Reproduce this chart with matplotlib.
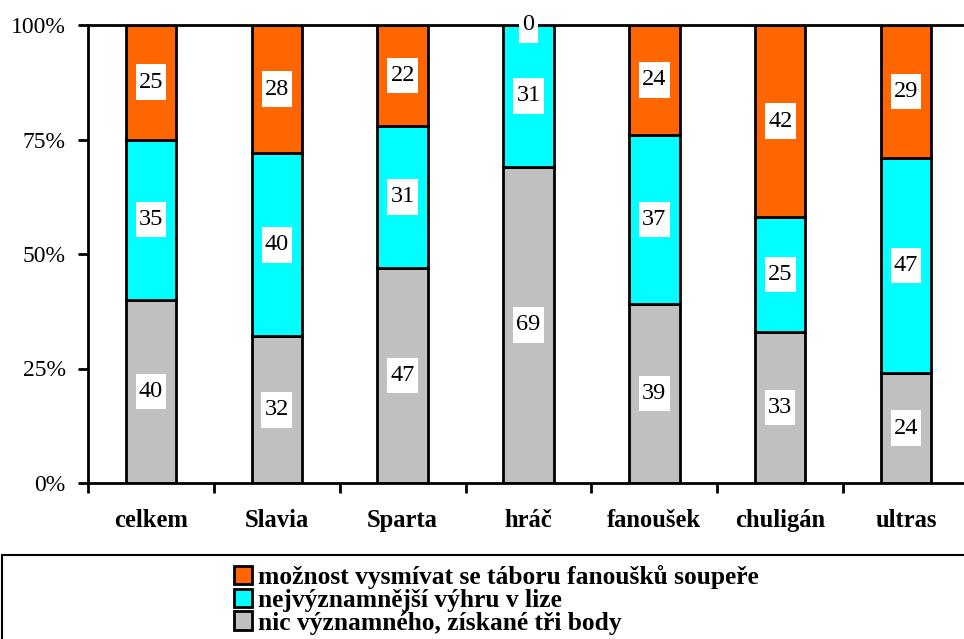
import matplotlib
matplotlib.use("Agg")
import matplotlib.pyplot as plt
from matplotlib.patches import Rectangle, Patch
from matplotlib.path import Path
from matplotlib.ticker import FixedLocator, NullFormatter

categories = ["celkem", "Slavia", "Sparta", "hráč", "fanoušek", "chuligán", "ultras"]
nic_vyznamneho = [40, 32, 47, 69, 39, 33, 24]
nejvyznamnejsi = [35, 40, 31, 31, 37, 25, 47]
vysmivat = [25, 28, 22, 0, 24, 42, 29]

series_labels = [
    "nic významného, získané tři body",
    "nejvýznamnější výhru v lize",
    "možnost vysmívat se táboru fanoušků soupeře",
]
series_colors = ["#C0C0C0", "#00FFFF", "#FF6600"]
y_ticks = [0, 25, 50, 75, 100]

plt.rcParams["font.family"] = ["Liberation Serif", "DejaVu Serif"]

fig = plt.figure(figsize=(9.64, 6.39), dpi=100)
ax = fig.add_axes([88 / 964, 1 - 483 / 639, (969 - 88) / 964, (483 - 25) / 639])


def label_box(x0, y0, width, height, mutation_size):
    # white box around value labels: narrow sides, tall top/bottom
    px = 0.13 * mutation_size
    py = 0.30 * mutation_size
    x0, x1 = x0 - px, x0 + width + px
    y0, y1 = y0 - py, y0 + height + py
    return Path([(x0, y0), (x1, y0), (x1, y1), (x0, y1), (x0, y0)], closed=True)


x = list(range(len(categories)))
bottom = [0] * len(categories)
handles = []
for vals, color, lab in zip([nic_vyznamneho, nejvyznamnejsi, vysmivat], series_colors, series_labels):
    ax.bar(x, vals, bottom=bottom, width=0.4, color=color, edgecolor="black",
           linewidth=2, zorder=2)
    for xi, v, b in zip(x, vals, bottom):
        ax.text(xi, b + v / 2, f"{v}", ha="center", va="center", fontsize=17.5,
                zorder=5, bbox=dict(boxstyle=label_box, facecolor="white",
                                    edgecolor="none"))
    bottom = [b + v for b, v in zip(bottom, vals)]
    handles.append(Patch(facecolor=color, edgecolor="black", linewidth=2, label=lab))

ax.set_xlim(-0.5, len(categories) - 0.5)
ax.set_ylim(0, 100)
ax.set_yticks(y_ticks)
ax.set_yticklabels([f"{t}%" for t in y_ticks], fontsize=17)
ax.tick_params(axis="y", length=7, width=2, pad=9, direction="out")

ax.set_xticks(x)
ax.set_xticklabels(categories, fontsize=17.7, fontweight="bold")
ax.tick_params(axis="x", which="major", length=0, pad=19)
ax.xaxis.set_minor_locator(FixedLocator([i - 0.5 for i in range(len(categories) + 1)]))
ax.xaxis.set_minor_formatter(NullFormatter())
ax.tick_params(axis="x", which="minor", length=7, width=2, direction="out")

for side in ["left", "bottom", "top"]:
    ax.spines[side].set_linewidth(2)
ax.spines["right"].set_visible(False)

# legend frame
fig.patches.append(Rectangle((2 / 964, -0.05), 1.0, 0.05 + 1 - 555 / 639,
                             transform=fig.transFigure, facecolor="white",
                             edgecolor="black", linewidth=1.5, zorder=0))

fig.legend(handles=handles[::-1], loc="upper left",
           bbox_to_anchor=(234 / 964, 1 - 565 / 639), frameon=False,
           prop=dict(family="Liberation Serif", weight="bold", size=18.4),
           handlelength=0.72, handleheight=0.75, handletextpad=0.2,
           labelspacing=-0.02, borderpad=0, borderaxespad=0)

fig.savefig("out.png", dpi=100)
